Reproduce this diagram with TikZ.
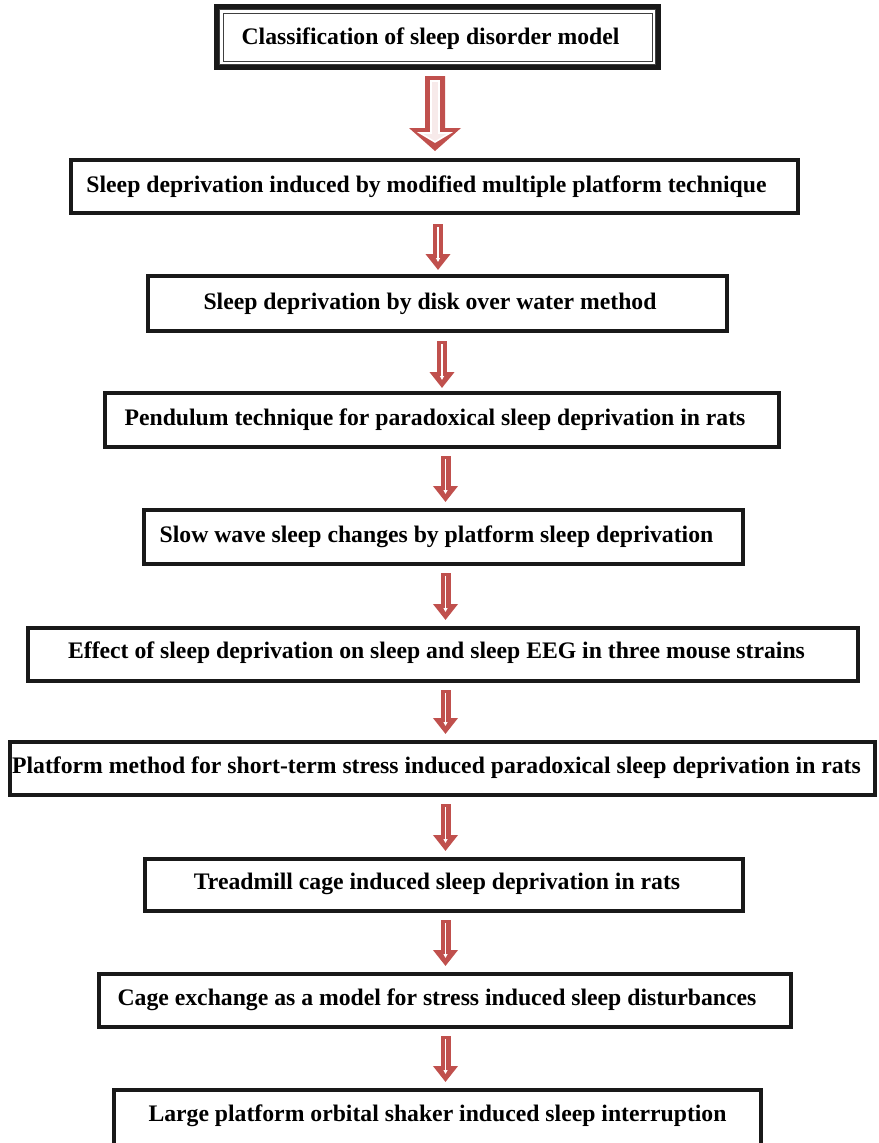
\documentclass[tikz,border=0pt]{standalone}
\usepackage{fontspec}
\setmainfont{Liberation Serif}
\usetikzlibrary{arrows.meta,calc}
\definecolor{arrowred}{RGB}{192,80,77}

\begin{document}
\begin{tikzpicture}[x=1pt,y=-1pt,
  box/.style={draw=black!90,line width=4pt,inner sep=0pt},
  txt/.style={font=\bfseries\fontsize{23.7}{28}\selectfont,inner sep=0pt,text height=16pt,text depth=5pt},
  sarrow/.style={draw=arrowred,line width=10pt,-{Triangle[width=24pt,length=16pt]}},
  scentre/.style={draw=white,line width=1.4pt,-{Triangle[width=4pt,length=4pt]}}]
\useasboundingbox (0,0) rectangle (878,1143);
% boxes
\node[box,line width=6pt,minimum width=441,minimum height=60] (b1) at (437.5,37) {};
\draw[black!75,line width=0.9pt] ([shift={(5.5,5.5)}]b1.north west) rectangle ([shift={(-5.5,-5.5)}]b1.south east);
\draw[black!75,line width=0.9pt] ([shift={(9,9)}]b1.north west) rectangle ([shift={(-9,-9)}]b1.south east);
\node[box,minimum width=727,minimum height=53] (b2) at (434.5,186.5) {};
\node[box,minimum width=579,minimum height=55] (b3) at (437.5,303.5) {};
\node[box,minimum width=674,minimum height=54] (b4) at (442,420) {};
\node[box,minimum width=599,minimum height=54] (b5) at (443.5,537) {};
\node[box,minimum width=830,minimum height=53] (b6) at (443,654.5) {};
\node[box,minimum width=865,minimum height=53] (b7) at (442.5,768.5) {};
\node[box,minimum width=598,minimum height=52] (b8) at (444,885) {};
\node[box,minimum width=692,minimum height=53] (b9) at (445,1000.5) {};
\node[box,minimum width=647,minimum height=64] (b10) at (437.5,1122) {};
% texts
\node[txt] (t1) at (430.5,38.5) {Classification of sleep disorder model};
\node[txt] (t2) at (426.5,186.5) {Sleep deprivation induced by modified multiple platform technique};
\node[txt] (t3) at (430,303.5) {Sleep deprivation by disk over water method};
\node[txt] (t4) at (435,419.5) {Pendulum technique for paradoxical sleep deprivation in rats};
\node[txt] (t5) at (436.5,536.5) {Slow wave sleep changes by platform sleep deprivation};
\node[txt] (t6) at (436.5,652.5) {Effect of sleep deprivation on sleep and sleep EEG in three mouse strains};
\node[txt] (t7) at (436.5,767.5) {Platform method for short-term stress induced paradoxical sleep deprivation in rats};
\node[txt] (t8) at (437,883.5) {Treadmill cage induced sleep deprivation in rats};
\node[txt] (t9) at (437,999.5) {Cage exchange as a model for stress induced sleep disturbances};
\node[txt] (t10) at (437.5,1116) {Large platform orbital shaker induced sleep interruption};
% arrows
\coordinate (ax1) at (435,0);\coordinate (ax2) at (438,0);
\coordinate (ax3) at (442,0);\coordinate (ax) at (445.5,0);
\coordinate (s1) at ([yshift=-6pt]b1.south -| ax1);\coordinate (e1) at ([yshift=7pt]b2.north -| ax1);
\fill[arrowred] ($(s1)+(-10,0)$) -- ($(s1)+(-10,52)$) -- ($(s1)+(-26,52)$) -- (e1)
  -- ($(s1)+(26,52)$) -- ($(s1)+(10,52)$) -- ($(s1)+(10,0)$) -- cycle;
\draw[white,fill=arrowred!12,line width=1.6pt,line join=miter] ($(s1)+(-4,5)$) -- ($(s1)+(-4,57)$) -- ($(s1)+(-15,57)$) -- ($(e1)+(0,-9)$)
  -- ($(s1)+(15,57)$) -- ($(s1)+(4,57)$) -- ($(s1)+(4,5)$) -- cycle;
\draw[sarrow] ([yshift=-9pt]b2.south -| ax2) -- ([yshift=4pt]b3.north -| ax2);
\draw[scentre] ([yshift=-12pt]b2.south -| ax2) -- ([yshift=12pt]b3.north -| ax2);
\draw[sarrow] ([yshift=-8pt]b3.south -| ax3) -- ([yshift=3pt]b4.north -| ax3);
\draw[scentre] ([yshift=-11pt]b3.south -| ax3) -- ([yshift=11pt]b4.north -| ax3);
\foreach \i/\j in {4/5,5/6,6/7,7/8,8/9,9/10}{
  \draw[sarrow] ([yshift=-7pt]b\i.south -| ax) -- ([yshift=6pt]b\j.north -| ax);
  \draw[scentre] ([yshift=-10pt]b\i.south -| ax) -- ([yshift=14pt]b\j.north -| ax);
}
\end{tikzpicture}
\end{document}
